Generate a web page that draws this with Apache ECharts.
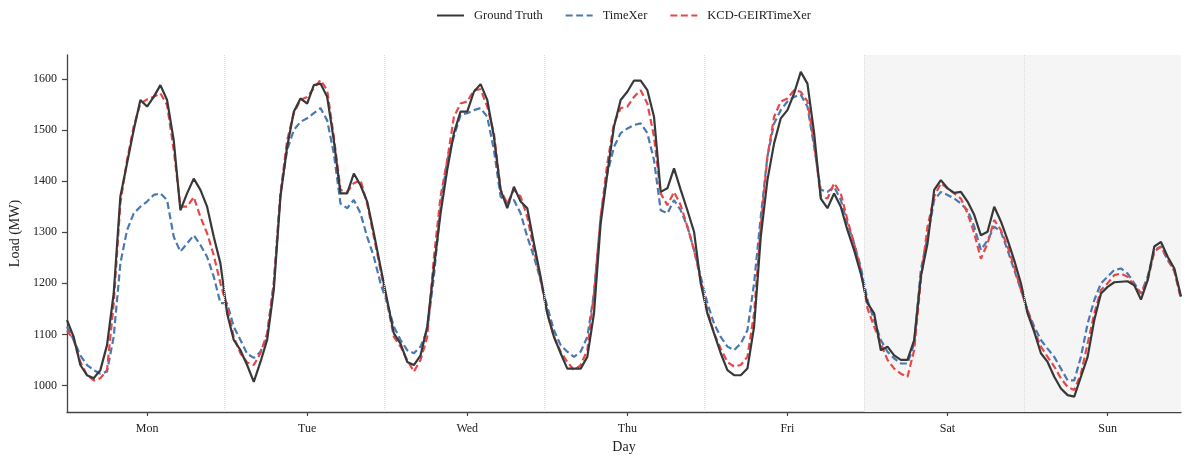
<!DOCTYPE html>
<html>
<head>
<meta charset="utf-8">
<script src="https://cdn.jsdelivr.net/npm/echarts@6/dist/echarts.min.js"></script>
<style>
html, body { margin: 0; padding: 0; background: #fff; }
#chart { width: 1190px; height: 463px; }
</style>
</head>
<body>
<div id="chart"></div>
<script>
// day names shown under the x axis (one tick in the middle of each day)
var days = ["Mon", "Tue", "Wed", "Thu", "Fri", "Sat", "Sun"];
var yTicks = [1000, 1100, 1200, 1300, 1400, 1500, 1600];

// hourly load, 168 points (7 days x 24h)
var groundTruth = [
    1128, 1095, 1040, 1020, 1014, 1030, 1079, 1180, 1370, 1435, 1500, 1559, 1546, 1565, 1588, 1559, 1480, 1343, 1376, 1405, 1383, 1350, 1291, 1239,
    1141, 1089, 1069, 1040, 1007, 1046, 1089, 1187, 1370, 1467, 1536, 1562, 1552, 1588, 1591, 1565, 1480, 1376, 1376, 1415, 1392, 1360, 1298, 1232,
    1167, 1102, 1082, 1046, 1040, 1059, 1115, 1230, 1337, 1422, 1494, 1536, 1536, 1575, 1590, 1559, 1487, 1383, 1347, 1389, 1360, 1347, 1278, 1213,
    1141, 1095, 1063, 1033, 1033, 1033, 1056, 1141, 1317, 1415, 1507, 1559, 1575, 1597, 1597, 1578, 1526, 1379, 1386, 1425, 1383, 1343, 1301, 1200,
    1141, 1102, 1063, 1030, 1020, 1020, 1033, 1115, 1291, 1402, 1474, 1523, 1539, 1572, 1614, 1591, 1494, 1366, 1347, 1376, 1350, 1304, 1265, 1219,
    1161, 1141, 1069, 1076, 1059, 1050, 1050, 1089, 1213, 1278, 1383, 1402, 1386, 1377, 1379, 1360, 1334, 1294, 1301, 1350, 1321, 1285, 1245, 1200,
    1141, 1105, 1063, 1046, 1017, 994, 981, 978, 1017, 1056, 1128, 1180, 1193, 1202, 1203, 1204, 1196, 1168, 1206, 1272, 1281, 1252, 1229, 1174
];
var timeXer = [
    1115, 1089, 1059, 1040, 1030, 1023, 1027, 1095, 1239, 1304, 1337, 1350, 1360, 1373, 1376, 1363, 1291, 1262, 1278, 1294, 1275, 1252, 1213, 1161,
    1161, 1115, 1089, 1062, 1054, 1066, 1095, 1200, 1376, 1461, 1500, 1516, 1523, 1533, 1543, 1519, 1454, 1356, 1347, 1363, 1337, 1291, 1252, 1200,
    1161, 1115, 1089, 1069, 1063, 1076, 1108, 1213, 1350, 1441, 1487, 1530, 1533, 1539, 1543, 1526, 1461, 1370, 1356, 1363, 1337, 1291, 1252, 1206,
    1154, 1108, 1079, 1066, 1056, 1066, 1095, 1180, 1330, 1415, 1467, 1494, 1503, 1510, 1513, 1494, 1441, 1343, 1337, 1363, 1343, 1311, 1265, 1213,
    1161, 1121, 1095, 1076, 1069, 1082, 1108, 1200, 1330, 1448, 1513, 1539, 1556, 1565, 1569, 1546, 1467, 1383, 1379, 1389, 1363, 1317, 1278, 1232,
    1167, 1128, 1089, 1066, 1053, 1043, 1043, 1082, 1226, 1291, 1363, 1379, 1373, 1366, 1356, 1343, 1311, 1265, 1284, 1311, 1301, 1265, 1226, 1187,
    1147, 1115, 1089, 1072, 1056, 1033, 1010, 1010, 1056, 1121, 1167, 1200, 1213, 1226, 1229, 1219, 1200, 1180, 1213, 1265, 1272, 1245, 1226, 1170
];
var kcdGeir = [
    1108, 1089, 1046, 1020, 1010, 1014, 1030, 1160, 1357, 1441, 1507, 1552, 1560, 1565, 1572, 1549, 1461, 1350, 1350, 1369, 1330, 1298, 1255, 1200,
    1154, 1095, 1063, 1045, 1040, 1063, 1102, 1200, 1376, 1480, 1533, 1559, 1565, 1582, 1598, 1578, 1487, 1383, 1379, 1396, 1402, 1356, 1291, 1226,
    1161, 1095, 1076, 1050, 1027, 1050, 1095, 1250, 1370, 1441, 1526, 1552, 1556, 1578, 1580, 1546, 1494, 1383, 1356, 1383, 1370, 1330, 1265, 1206,
    1141, 1095, 1066, 1046, 1030, 1040, 1069, 1180, 1330, 1435, 1513, 1543, 1546, 1565, 1578, 1552, 1487, 1376, 1353, 1379, 1353, 1311, 1265, 1206,
    1147, 1102, 1072, 1046, 1037, 1040, 1056, 1141, 1311, 1448, 1526, 1556, 1562, 1578, 1575, 1556, 1474, 1370, 1366, 1396, 1376, 1324, 1278, 1226,
    1151, 1115, 1082, 1050, 1033, 1023, 1017, 1069, 1206, 1311, 1370, 1396, 1386, 1376, 1366, 1337, 1298, 1248, 1278, 1324, 1304, 1272, 1232, 1187,
    1147, 1108, 1076, 1056, 1037, 1014, 997, 991, 1023, 1082, 1141, 1187, 1200, 1216, 1219, 1213, 1196, 1180, 1206, 1262, 1272, 1249, 1223, 1170
];

var FONT = "Liberation Serif";

function toPairs(arr) {
    var out = [];
    for (var i = 0; i < arr.length; i++) {
        out.push([i, arr[i]]);
    }
    return out;
}

// ticks in the middle of each day, separators between days
var dayCenters = [];
var dayBounds = [];
for (var d = 0; d < days.length; d++) {
    dayCenters.push(d * 24 + 12);
    if (d > 0) dayBounds.push({ xAxis: d * 24 - 0.5 });
}
var lastX = groundTruth.length - 1;

var myChart = echarts.init(document.getElementById('chart'));
var option = {
    animation: false,
    backgroundColor: '#ffffff',
    textStyle: { fontFamily: FONT },
    legend: {
        top: 4,
        left: 431,
        itemWidth: 27,
        itemHeight: 14,
        itemGap: 22,
        itemStyle: { opacity: 0 },
        textStyle: { fontFamily: FONT, fontSize: 12.5, color: '#222', padding: [0, 0, 0, 5] },
        data: ['Ground Truth', 'TimeXer', 'KCD-GEIRTimeXer']
    },
    grid: { left: 67, right: 9, top: 55, bottom: 51, containLabel: false, outerBoundsMode: 'none' },
    xAxis: {
        type: 'value',
        min: 0,
        max: lastX,
        name: 'Day',
        nameLocation: 'middle',
        nameGap: 27,
        nameTextStyle: { fontFamily: FONT, fontSize: 14, color: '#222' },
        axisLine: { lineStyle: { color: '#444', width: 1.3 } },
        axisTick: { show: true, length: 4, customValues: dayCenters, lineStyle: { color: '#444', width: 1.2 } },
        axisLabel: {
            customValues: dayCenters,
            margin: 11,
            fontFamily: FONT, fontSize: 12, color: '#222',
            formatter: function (v) { return days[Math.round((v - 12) / 24)]; }
        },
        splitLine: { show: false }
    },
    yAxis: {
        type: 'value',
        min: 948,
        max: 1647,
        name: 'Load (MW)',
        nameLocation: 'middle',
        nameGap: 39,
        nameRotate: 90,
        nameTextStyle: { fontFamily: FONT, fontSize: 14, color: '#222' },
        axisLine: { show: true, lineStyle: { color: '#444', width: 1.3 } },
        axisTick: { show: true, length: 5, customValues: yTicks, lineStyle: { color: '#444', width: 1.2 } },
        axisLabel: {
            customValues: yTicks, margin: 10, fontFamily: FONT, fontSize: 12, color: '#222',
            formatter: function (v) { return String(v); }
        },
        splitLine: { show: false }
    },
    series: [
        {
            name: 'Ground Truth',
            type: 'line',
            data: toPairs(groundTruth),
            symbol: 'none',
            z: 4,
            lineStyle: { color: '#383838', width: 2.2 },
            itemStyle: { color: '#383838' },
            markArea: {
                silent: true,
                itemStyle: { color: '#f5f5f5' },
                data: [[{ xAxis: 5 * 24 - 0.5 }, { xAxis: lastX }]]
            },
            markLine: {
                silent: true,
                symbol: 'none',
                label: { show: false },
                lineStyle: { color: '#dcdcdc', width: 1, type: 'dotted' },
                data: dayBounds
            }
        },
        {
            name: 'TimeXer',
            type: 'line',
            data: toPairs(timeXer),
            symbol: 'none',
            z: 3,
            lineStyle: { color: '#4a78b0', width: 2.2, type: [7, 3.5] },
            itemStyle: { color: '#4a78b0' }
        },
        {
            name: 'KCD-GEIRTimeXer',
            type: 'line',
            data: toPairs(kcdGeir),
            symbol: 'none',
            z: 3,
            lineStyle: { color: '#e8474a', width: 2.2, type: [7, 3.5] },
            itemStyle: { color: '#e8474a' }
        }
    ]
};
myChart.setOption(option);
</script>
</body>
</html>
